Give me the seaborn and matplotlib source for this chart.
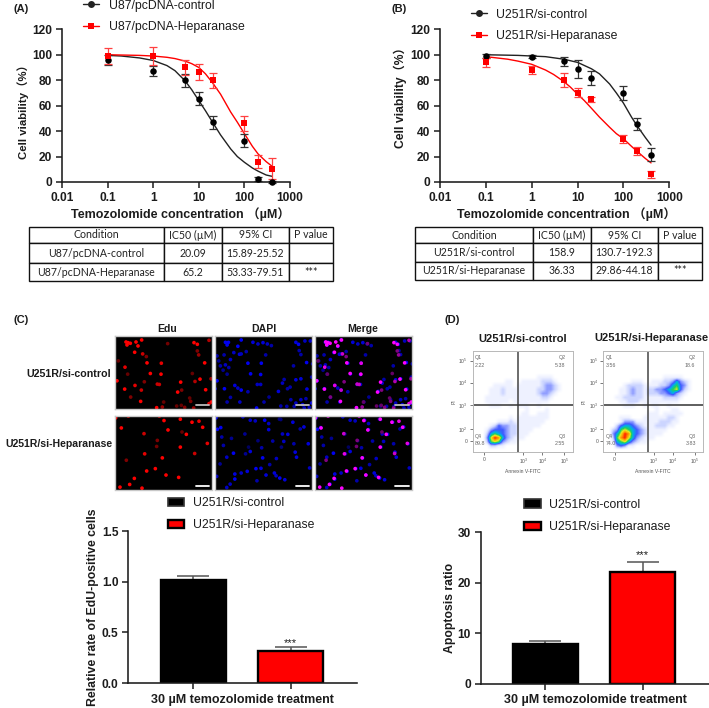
import numpy as np
import pandas as pd
import matplotlib
matplotlib.use("Agg")
import matplotlib.pyplot as plt
from matplotlib.lines import Line2D
from matplotlib.patches import Patch
from matplotlib.colors import LinearSegmentedColormap
import seaborn as sns

sns.set_theme(style="white")
FONT = ["Liberation Sans", "Noto Sans CJK SC", "DejaVu Sans"]
plt.rcParams["font.family"] = FONT
plt.rcParams["mathtext.fontset"] = "custom"
plt.rcParams["mathtext.rm"] = "Liberation Sans"

W, H = 709, 708
INK = "#1c1c1c"
RED = "#ff0000"

# ---------- viability curves ----------
dose = [0.1, 1, 5, 10, 20, 100, 200, 400]

a_ctrl = [96, 87, 80, 65.5, 47, 32.5, 2.5, 0]
a_ctrl_err = [4, 4, 5, 5, 5, 5, 1.5, 1]
a_hep = [99, 99, 90, 86.5, 80, 46, 16, 10.5]
a_hep_err = [6, 7, 6, 6, 6, 6, 5, 8]
a_ctrl_fit_x = [0.1, 0.2, 0.5, 1, 2, 3, 5, 7, 10, 14, 20, 30, 50, 70, 100, 150, 200, 300, 400]
a_ctrl_fit_y = [99.5, 99, 97.5, 95.5, 91.5, 87.5, 79.5, 72.5, 64, 56, 47, 37, 26, 20, 15.5, 11, 8.5, 5.5, 4.5]
a_hep_fit_x = [0.1, 0.5, 1, 2, 3, 5, 7, 10, 14, 20, 30, 50, 70, 100, 150, 200, 300, 400]
a_hep_fit_y = [100, 99.5, 99, 98, 97, 95, 93, 90, 85, 78, 69, 55, 47, 38, 28, 22, 16, 12.5]

b_ctrl = [99, 98.5, 95, 89, 82, 70, 45.5, 21.5]
b_ctrl_err = [1.5, 1, 3.5, 7, 5.5, 5.5, 5, 5]
b_hep = [94, 88, 80.5, 70, 65, 34, 24.5, 6]
b_hep_err = [3.5, 3, 5.5, 3.5, 2, 3, 3, 3]
b_ctrl_fit_x = [0.1, 0.5, 1, 2, 5, 10, 20, 30, 50, 70, 100, 150, 200, 300, 400]
b_ctrl_fit_y = [100, 99.5, 99, 98.5, 96.5, 94, 89, 85, 77, 70, 62, 51, 44, 35, 29]
b_hep_fit_x = [0.1, 0.3, 0.5, 1, 2, 3, 5, 7, 10, 14, 20, 30, 50, 70, 100, 150, 200, 300, 400]
b_hep_fit_y = [98.5, 96.5, 95, 92.5, 88, 84.5, 79, 74.5, 69, 64, 58, 51, 43, 38, 34, 28, 24, 18.5, 15]

dose_ticks = [0.01, 0.1, 1, 10, 100, 1000]
dose_labels = ["0.01", "0.1", "1", "10", "100", "1000"]
viab_ticks = [0, 20, 40, 60, 80, 100, 120]

# ---------- tables ----------
table_head = ["Condition", "IC50 (µM)", "95% CI", "P value"]
table_a = [["U87/pcDNA-control", "20.09", "15.89-25.52", ""],
           ["U87/pcDNA-Heparanase", "65.2", "53.33-79.51", "***"]]
table_b = [["U251R/si-control", "158.9", "130.7-192.3", ""],
           ["U251R/si-Heparanase", "36.33", "29.86-44.18", "***"]]

# ---------- bars ----------
groups = ["U251R/si-control", "U251R/si-Heparanase"]
edu_vals = [1.02, 0.32]
edu_errs = [0.04, 0.035]
apo_vals = [7.9, 22.1]
apo_errs = [0.6, 2.1]

# ---------- fluorescence nuclei (x, y, brightness) ----------
edu_top = [(77,36,1),(83,38,1),(80,45,1),(90,40,1),(107,36,1),(124,30,1),(113,48,1),(103,67,1),(127,72,.8),(138,80,.5),
           (140,99,1),(183,100,.9),(202,41,.45),(281,38,1),(291,43,1),(326,31,.7),(291,63,.5),(295,75,.6),(313,99,1),
           (54,93,.4),(74,112,.9),(82,133,.4),(150,131,1),(182,133,1),(276,131,.4),(50,153,1),(73,178,1),(104,167,.9),
           (132,156,.5),(123,181,.8),(171,163,.8),(177,164,.8),(241,157,1),(284,155,.7),(299,148,1),(332,147,.6),
           (316,180,1),(232,187,1),(244,181,.5),(91,202,.5),(121,215,1),(190,217,.4),(169,234,1),(186,232,.6),
           (229,229,.4),(243,227,.4),(253,233,.5),(268,205,.4),(271,215,.5),(333,217,1),(326,222,.9),(280,235,.6)]
dapi_top = [(675,172,1),(684,172,1),(680,180,1),(712,184,1),(722,165,1),(757,172,.9),(772,177,.8),(787,173,.9),(800,177,.8),
            (812,182,.7),(885,172,.9),(893,178,1),(912,168,.8),(928,168,.8),(895,197,.7),(900,209,.7),(917,233,1),(650,213,.7),
            (671,210,.7),(690,224,.8),(700,203,.8),(717,208,.9),(737,200,.7),(722,207,.8),(742,235,1),(782,235,1),(795,210,.7),
            (878,243,.7),(935,237,.7),(655,228,.6),(660,243,.7),(675,240,.8),(668,256,.6),(685,248,.7),(680,268,.6),(750,267,1),
            (780,269,1),(650,288,1),(672,312,1),(644,312,.9),(703,302,.9),(712,310,.8),(722,316,1),(742,321,.7),(780,299,.8),
            (770,299,.8),(833,320,.9),(845,295,.8),(850,284,.7),(860,312,.7),(868,307,.7),(885,285,.9),(900,282,.9),(918,313,.9),
            (932,277,.7),(640,335,.7),(690,338,.7),(680,352,.7),(718,352,.8),(790,352,.7),(805,337,.6),(768,370,1),(840,364,.7),
            (858,365,.7),(870,345,.7),(885,355,.8),(900,345,.8),(905,360,.9),(915,342,.7),(932,355,.9),(880,365,.7),(910,370,.8),(925,368,.8)]
edu_bot = [(46,263,1),(84,258,.7),(177,258,.7),(191,271,1),(240,267,1),(275,276,1),(296,273,.9),(307,291,1),(63,293,1),(203,299,1),
           (131,310,.8),(258,312,1),(245,305,.4),(171,330,.5),(169,348,.45),(321,339,.9),(240,350,1),(133,370,.9),(283,369,.8),
           (186,382,1),(78,389,.5),(139,421,1),(165,414,1),(197,433,1),(235,440,1),(102,443,1),(88,461,1),(125,472,1),(59,469,1)]
dapi_bot = [(38,260,.8),(60,270,.8),(75,272,.8),(103,270,1),(115,280,.8),(115,298,.9),(147,267,.5),(151,268,.5),(187,276,.9),(209,296,.7),
            (220,290,.9),(156,311,.8),(172,312,.9),(44,311,.6),(4,324,.6),(83,331,.5),(127,332,.7),(160,333,.8),(190,340,.7),(233,340,.9),
            (55,350,.4),(94,352,.7),(153,350,.5),(194,365,.9),(10,368,1),(46,370,.6),(60,363,.9),(198,380,.9),(97,382,1),(138,384,.8),
            (118,402,.7),(77,414,1),(92,413,.9),(132,427,.9),(137,435,.8),(148,442,1),(163,447,.9),(51,422,.9),(33,427,.8),(14,430,.9),
            (14,445,1),(107,433,.9),(80,450,.7),(237,412,.8),(-42,263,1),(-38,297,1),(-28,292,1),(-40,437,.8),(-20,345,.7),(-10,380,.8),
            (-25,320,.7),(0,460,.8),(-30,400,.6),(-10,470,.8)]

# ---------- flow cytometry density, coarse cells ----------
flow_ctrl = ["0000000000000000000000000","0000000000000000000000000","0000000000000000000000000",
             "0000000000000000000000000","0000000000000000000000000","0000000000000000000000000",
             "0000000000000000111100000","0000000011001111122210000","0000011111011111123321000",
             "0000111211111111223321000","0000111211111111233210000","0001111111111111122100000",
             "0001111110111111111000000","0000111001011100100000000","0000000000000100001000000",
             "0000000000001100111000000","0000000001011111111000000","0000001112111111110000000",
             "0000124332211111100000000","0001344432211110000000000","0002565432211100000000000",
             "0003798532111000000000000","0002676321100000000000000","0000221100000000000000000",
             "0000000000000000000000000"]
flow_hep = ["0000000000000000000000000","0000000000000000000000000","0000000000000000000000000",
            "0000000000000000000000000","0000000000000000000000000","0000000000000000000000000",
            "0000000000000001111100000","0000000111001112235321000","0000012222111122356431000",
            "0000112322122334567421000","0000112322122233453210000","0001122222111112222100000",
            "0000112221111111111000000","0000011100101100100000000","0000000000000100011000000",
            "0000000000011101111100000","0000111000111111221000000","0000133311111122211000000",
            "0002455432111222110000000","0023676543211111000000000","0035798543211110000000000",
            "0026897532111000000000000","0015675321100000000000000","0003431100000000000000000",
            "0000000000000000000000000"]
flow_ctrl_q = ["2.22", "5.38", "89.8", "2.55"]
flow_hep_q = ["3.56", "18.6", "74.0", "3.83"]
flow_colors = ["#ffffff", "#eef1ff", "#ccd5ff", "#8f9cff", "#3f5aff", "#00b0e8", "#20d060", "#e8e820", "#ff9a00", "#ff2000"]

fig = plt.figure(figsize=(W / 100, H / 100), dpi=100, facecolor="white")


def axpx(l, t, r, b, **kw):
    return fig.add_axes([l / W, 1 - b / H, (r - l) / W, (b - t) / H], **kw)


def ftext(x, y, s, **kw):
    kw.setdefault("ha", "center")
    kw.setdefault("va", "center")
    kw.setdefault("color", INK)
    fig.text(x / W, 1 - y / H, s, **kw)


def style_axis(ax):
    sns.despine(ax=ax)
    for s in ("left", "bottom"):
        ax.spines[s].set_linewidth(1.15)
        ax.spines[s].set_color(INK)
    ax.tick_params(axis="both", which="major", length=4.5, width=1.1, color=INK, bottom=True, left=True,
                   pad=2.5, labelsize=8.6, labelcolor=INK)
    for t in ax.get_xticklabels() + ax.get_yticklabels():
        t.set_fontweight("bold")


def viability(ax, ctrl, ctrl_err, hep, hep_err, cfx, cfy, hfx, hfy, ylab_xy, xlab_x, ylab_size):
    sns.lineplot(x=cfx, y=cfy, ax=ax, color="#222222", lw=1.0, errorbar=None, estimator=None, sort=False)
    sns.lineplot(x=hfx, y=hfy, ax=ax, color=RED, lw=1.0, errorbar=None, estimator=None, sort=False)
    ax.errorbar(dose, ctrl, yerr=ctrl_err, fmt="none", ecolor="#333333", elinewidth=0.9, capsize=3, capthick=0.9, clip_on=False)
    ax.errorbar(dose, hep, yerr=hep_err, fmt="none", ecolor="#ff4040", elinewidth=0.9, capsize=3, capthick=0.9, clip_on=False)
    sns.scatterplot(x=dose, y=ctrl, ax=ax, color="black", marker="o", s=22, linewidth=0, clip_on=False, zorder=4)
    sns.scatterplot(x=dose, y=hep, ax=ax, color=RED, marker="s", s=22, linewidth=0, clip_on=False, zorder=5)
    ax.set_xscale("log")
    ax.set_xlim(0.01, 1000)
    ax.set_ylim(0, 120)
    ax.set_xticks(dose_ticks)
    ax.set_xticklabels(dose_labels)
    ax.minorticks_off()
    ax.set_yticks(viab_ticks)
    style_axis(ax)
    ax.set_xlabel("Temozolomide concentration （µM）", fontweight="bold", fontsize=9.0, color=INK, va="center")
    ax.set_ylabel("Cell viability（%）", fontweight="bold", fontsize=ylab_size, color=INK, va="center")
    ax.xaxis.set_label_coords(xlab_x, -0.21)
    ax.yaxis.set_label_coords(*ylab_xy)


def curve_legend(x, yc, labels):
    handles = [Line2D([], [], color="#222222", lw=1.0, marker="o", ms=5, mew=0),
               Line2D([], [], color=RED, lw=1.0, marker="s", ms=5, mew=0)]
    fig.legend(handles, labels, loc="center left", bbox_to_anchor=(x / W, 1 - yc / H), frameon=False,
               fontsize=8.8, borderpad=0, borderaxespad=0, handlelength=1.31, handletextpad=0.8,
               labelspacing=0.8, labelcolor=INK)


def draw_table(box, rows, col_px, row_px):
    ax = axpx(*box)
    ax.axis("off")
    widths = np.diff(col_px) / (col_px[-1] - col_px[0])
    tb = ax.table(cellText=[table_head] + rows, colWidths=list(widths), cellLoc="center", bbox=[0, 0, 1, 1])
    tb.auto_set_font_size(False)
    tb.set_fontsize(7.6)
    heights = np.diff(row_px) / (row_px[-1] - row_px[0])
    for (r, c), cell in tb.get_celld().items():
        cell.set_height(heights[r])
        cell.set_linewidth(1.0)
        cell.set_edgecolor("#111111")
        cell.get_text().set_fontfamily("Lato")
        cell.get_text().set_color("#222222")


def fluor_panel(box, layers, lims, bar_col):
    ax = axpx(*box, facecolor="black")
    for pts, off, col in layers:
        p = np.array(pts, dtype=float)
        rgba = np.zeros((len(p), 4))
        rgba[:, :3] = np.outer(p[:, 2], col)
        rgba[:, 3] = 1
        ax.scatter(p[:, 0] + off[0], p[:, 1] + off[1], c=rgba, s=7, linewidths=0)
    ax.set_xlim(*lims[:2])
    ax.set_ylim(*lims[2:])
    ax.set_xticks([])
    ax.set_yticks([])
    for s in ax.spines.values():
        s.set_color("#c8c8c8")
        s.set_linewidth(1.0)
    x1, x0 = 0.97, 0.83
    ax.plot([x0, x1], [0.05, 0.05], transform=ax.transAxes, color=bar_col, lw=1.3)


def flow_panel(box, cells, qvals, qx):
    ax = axpx(*box)
    grid = np.array([[int(c) for c in row] for row in cells], dtype=float)
    cmap = LinearSegmentedColormap.from_list("flow", flow_colors)
    ext = (0, 300, 303, 0)
    ax.imshow(grid, cmap=cmap, vmin=0, vmax=9, extent=ext, interpolation="bilinear", aspect="auto")
    ax.axvline(qx, color="#444444", lw=1.1)
    ax.axhline(163, color="#333333", lw=1.1)
    ax.set_xlim(0, 300)
    ax.set_ylim(303, 0)
    for s in ax.spines.values():
        s.set_color("#b8b8b8")
        s.set_linewidth(0.7)
    ax.set_xticks([34, 152, 209, 275])
    ax.set_xticklabels(["0", "$10^3$", "$10^4$", "$10^5$"])
    ax.set_yticks([271, 236, 163, 96, 30])
    ax.set_yticklabels(["0", "$10^2$", "$10^3$", "$10^4$", "$10^5$"])
    ax.tick_params(axis="both", length=2, width=0.5, color="#444444", labelsize=3.6, labelcolor="#555555",
                   pad=1.5, bottom=True, left=True)
    ax.set_xlabel("Annexin V-FITC", fontsize=3.6, color="#555555", labelpad=2.5)
    ax.set_ylabel("PI", fontsize=3.6, color="#555555", labelpad=1.5)
    small = dict(fontsize=3.8, color="#666666", va="center")
    for x, y, s in [(7, 21, "Q1"), (7, 44, qvals[0]), (257, 21, "Q2"), (245, 44, qvals[1]),
                    (7, 256, "Q4"), (7, 278, qvals[2]), (257, 256, "Q3"), (247, 278, qvals[3])]:
        ax.text(x, y, s, **small)


def bar_panel(box, vals, errs, ylim, yticks, ylabel, star_y, xlim, ylab_x, ylab_y):
    ax = axpx(*box)
    df = pd.DataFrame({"group": groups, "value": vals})
    sns.barplot(data=df, x="group", y="value", hue="group", ax=ax, palette=["black", RED], width=0.667,
                saturation=1, edgecolor="black", linewidth=1.7, legend=False, zorder=2)
    ax.errorbar([0, 1], vals, yerr=[[0, 0], errs], fmt="none", ecolor="#555555", elinewidth=1.1, capsize=11.5,
                capthick=1.1, zorder=1)
    ax.set_xlim(*xlim)
    ax.set_ylim(*ylim)
    ax.set_yticks(yticks)
    ax.set_xticks([0, 1])
    ax.set_xticklabels(["", ""])
    style_axis(ax)
    ax.set_xlabel("")
    ax.set_ylabel(ylabel, fontweight="bold", fontsize=8.8, color=INK, va="center")
    ax.yaxis.set_label_coords(ylab_x, ylab_y)
    ax.text(1, star_y, "***", ha="center", va="center", fontsize=8, color=INK)
    return ax


def bar_legend(x, yc):
    handles = [Patch(facecolor="black", edgecolor="#333333", lw=1.2),
               Patch(facecolor=RED, edgecolor="black", lw=1.7)]
    fig.legend(handles, groups, loc="center left", bbox_to_anchor=(x / W, 1 - yc / H), frameon=False,
               fontsize=8.8, borderpad=0, borderaxespad=0, handlelength=1.34, handleheight=0.66, handletextpad=0.72,
               labelspacing=0.82, labelcolor=INK)


# ----- panel A / B curves -----
ax_a = axpx(62, 29.3, 290, 182)
viability(ax_a, a_ctrl, a_ctrl_err, a_hep, a_hep_err, a_ctrl_fit_x, a_ctrl_fit_y, a_hep_fit_x, a_hep_fit_y,
          (-0.172, 0.478), 0.518, 8.2)
ax_b = axpx(440, 29.3, 669.3, 182)
viability(ax_b, b_ctrl, b_ctrl_err, b_hep, b_hep_err, b_ctrl_fit_x, b_ctrl_fit_y, b_hep_fit_x, b_hep_fit_y,
          (-0.175, 0.573), 0.553, 8.7)
curve_legend(83, 16.5, ["U87/pcDNA-control", "U87/pcDNA-Heparanase"])
curve_legend(470.7, 25.5, ["U251R/si-control", "U251R/si-Heparanase"])

# ----- tables -----
draw_table((29.3, 226.7, 333, 281), table_a, np.array([29.3, 163.7, 221.7, 288.7, 333]), np.array([226.7, 243.3, 263.3, 281]))
draw_table((415, 226.7, 701.7, 280), table_b, np.array([415, 533.3, 590.7, 657.7, 701.7]), np.array([226.7, 243.3, 261.7, 280]))

# ----- panel C fluorescence -----
E_OFF_T = (-44, -18)
E_OFF_B = (-44, -256)
D_OFF_T = (-643, -153)
D_OFF_B = (46, -256)
ELIM = (0, 291, 220, 0)
RC, BC, MC = (1, 0, 0), (0, 0, 0.95), (1, 0, 1)
fluor_panel((115, 336, 212, 409), [(edu_top, E_OFF_T, RC)], ELIM, "#bdbdbd")
fluor_panel((214.7, 336, 312.3, 409), [(dapi_top, D_OFF_T, BC)], ELIM, "#bdbdbd")
fluor_panel((314.7, 336, 412, 409), [(dapi_top, D_OFF_T, BC), (edu_top, E_OFF_T, MC)], ELIM, "#bdbdbd")
fluor_panel((115, 415.5, 212, 489.5), [(edu_bot, E_OFF_B, RC)], ELIM, "white")
fluor_panel((214.7, 415.5, 312.3, 489.5), [(dapi_bot, D_OFF_B, BC)], ELIM, "white")
fluor_panel((314.7, 415.5, 412, 489.5), [(dapi_bot, D_OFF_B, BC), (edu_bot, E_OFF_B, MC)], ELIM, "white")
for x, s in [(166.7, "Edu"), (263.7, "DAPI"), (363, "Merge")]:
    ftext(x, 329.3, s, fontweight="bold", fontsize=7.6)
ftext(111, 374, groups[0], fontweight="bold", fontsize=7.7, ha="right")
ftext(112, 444.3, groups[1], fontweight="bold", fontsize=7.6, ha="right")

# ----- panel D flow -----
flow_panel((472.7, 350.7, 572.7, 451.7), flow_ctrl, flow_ctrl_q, 135)
flow_panel((603.3, 350.7, 703.3, 451.7), flow_hep, flow_hep_q, 135)
ftext(523, 339, groups[0], fontweight="bold", fontsize=8.0)
ftext(651, 338, groups[1], fontweight="bold", fontsize=8.0)

# ----- bars -----
bar_panel((128.3, 531.3, 356.7, 683), edu_vals, edu_errs, (0, 1.5), [0, 0.5, 1.0, 1.5],
          "Relative rate of EdU-positive cells", 0.39, (-0.667, 1.678), -0.156, 0.50)
bar_panel((480.7, 532.3, 709.5, 684), apo_vals, apo_errs, (0, 30), [0, 10, 20, 30],
          "Apoptosis ratio", 25.4, (-0.66, 1.686), -0.134, 0.50)
bar_legend(167.7, 514.2)
bar_legend(524.3, 515.9)
ftext(242.5, 700.5, "30 µM temozolomide treatment", fontweight="bold", fontsize=9.0)
ftext(595, 700.5, "30 µM temozolomide treatment", fontweight="bold", fontsize=9.0)

# ----- panel tags -----
for x, y, s in [(21.5, 9, "(A)"), (399.5, 9, "(B)"), (21.5, 320, "(C)"), (452.5, 320, "(D)")]:
    ftext(x, y, s, fontweight="bold", fontsize=8.0)

fig.savefig("out.png", dpi=100, facecolor="white")
